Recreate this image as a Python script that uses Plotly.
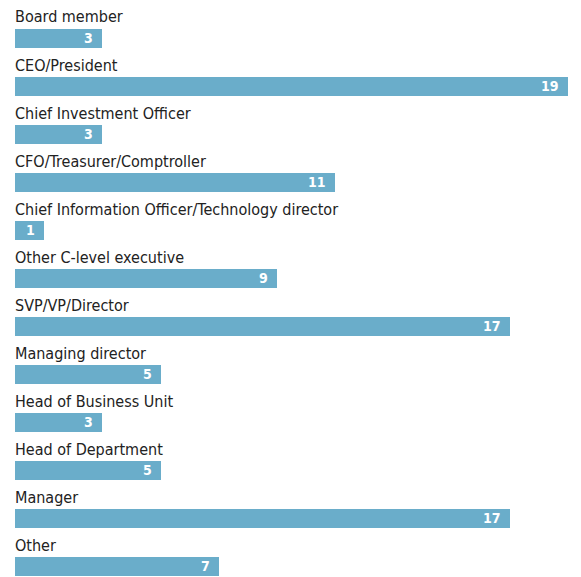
import plotly.graph_objects as go

categories = [
    "Board member",
    "CEO/President",
    "Chief Investment Officer",
    "CFO/Treasurer/Comptroller",
    "Chief Information Officer/Technology director",
    "Other C-level executive",
    "SVP/VP/Director",
    "Managing director",
    "Head of Business Unit",
    "Head of Department",
    "Manager",
    "Other",
]
values = [3, 19, 3, 11, 1, 9, 17, 5, 3, 5, 17, 7]

BAR_COLOR = "#6aadca"
ROW_H = 48          # pixels per row
BAR_H = 19          # bar thickness in pixels
W, H = 581, 577
FONT = "DejaVu Sans Condensed, Liberation Sans Narrow, Liberation Sans, sans-serif"

# each row: label on top, bar sitting at the bottom of the row
bar_width = BAR_H / ROW_H
positions = [i + (ROW_H - BAR_H / 2 - 0.5) / ROW_H for i in range(len(categories))]

fig = go.Figure(
    go.Bar(
        x=values,
        y=positions,
        orientation="h",
        width=bar_width,
        marker=dict(color=BAR_COLOR, line=dict(width=0)),
        hoverinfo="skip",
    )
)

annotations = []
for cat, val, pos in zip(categories, values, positions):
    annotations.append(dict(
        x=0, y=pos - bar_width / 2, xref="x", yref="y",
        text=cat, showarrow=False, xanchor="left", yanchor="bottom",
        xshift=-2, yshift=0,
        font=dict(family=FONT, size=16, color="#222222"),
    ))
    annotations.append(dict(
        x=val, y=pos, xref="x", yref="y",
        text=f"<b>{val}</b>", showarrow=False, xanchor="right", yanchor="middle",
        xshift=-7,
        font=dict(family=FONT, size=14, color="white"),
    ))

fig.update_layout(
    width=W, height=H,
    margin=dict(l=15, r=13, t=0, b=0),
    paper_bgcolor="white", plot_bgcolor="white",
    showlegend=False,
    bargap=0,
    xaxis=dict(range=[0, max(values)], visible=False, fixedrange=True),
    yaxis=dict(range=[H / ROW_H, 0], visible=False, fixedrange=True),
    annotations=annotations,
)

fig.write_html("out.html")
